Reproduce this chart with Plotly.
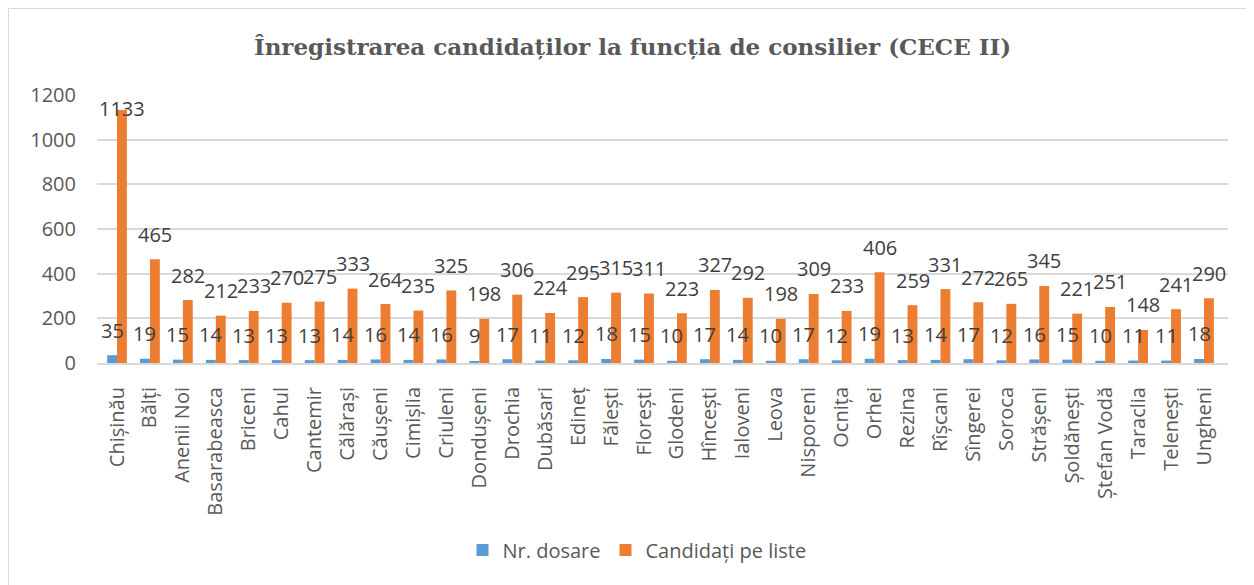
import plotly.graph_objects as go

# Raioane / municipii (axa X)
raioane = ["Chișinău", "Bălți", "Anenii Noi", "Basarabeasca", "Briceni", "Cahul",
           "Cantemir", "Călărași", "Căușeni", "Cimișlia", "Criuleni", "Dondușeni",
           "Drochia", "Dubăsari", "Edineț", "Fălești", "Florești", "Glodeni",
           "Hîncești", "Ialoveni", "Leova", "Nisporeni", "Ocnița", "Orhei",
           "Rezina", "Rîșcani", "Sîngerei", "Soroca", "Strășeni", "Șoldănești",
           "Ștefan Vodă", "Taraclia", "Telenești", "Ungheni"]

# Nr. dosare
nr_dosare = [35, 19, 15, 14, 13, 13, 13, 14, 16, 14, 16, 9, 17, 11, 12, 18, 15,
             10, 17, 14, 10, 17, 12, 19, 13, 14, 17, 12, 16, 15, 10, 11, 11, 18]

# Candidati pe liste
candidati = [1133, 465, 282, 212, 233, 270, 275, 333, 264, 235, 325, 198, 306,
             224, 295, 315, 311, 223, 327, 292, 198, 309, 233, 406, 259, 331,
             272, 265, 345, 221, 251, 148, 241, 290]

y_ticks = [0, 200, 400, 600, 800, 1000, 1200]

BLUE = "#5B9BD5"
ORANGE = "#ED7D31"
FONT = "Open Sans"

# pagina are 8px margine implicita, deci figura e putin mai mica
W, H = 1246, 577
L, R, T, B = 89, 26, 87, 222
PW, PH = W - L - R, H - T - B

fig = go.Figure()
fig.add_trace(go.Bar(x=raioane, y=nr_dosare, name="Nr. dosare",
                     marker=dict(color=BLUE, line=dict(width=0))))
fig.add_trace(go.Bar(x=raioane, y=candidati, name="Candidați pe liste",
                     marker=dict(color=ORANGE, line=dict(width=0))))

# etichete de date, ca in Excel (deasupra barelor)
annots = []
for name, val in zip(raioane, nr_dosare):
    annots.append(dict(x=name, y=val + 112, text=str(val), showarrow=False,
                       xshift=-5, yanchor="middle",
                       font=dict(family=FONT, size=20, color="#404040")))
for name, val in zip(raioane, candidati):
    annots.append(dict(x=name, y=min(val + 112, 1140), text=str(val), showarrow=False,
                       xshift=5, yanchor="middle",
                       font=dict(family=FONT, size=20, color="#404040")))

# chenarul graficului (doar stanga si sus sunt vizibile)
bx = (0 - L) / PW
by = (H - B - 0) / PH
fig.add_shape(type="line", xref="paper", yref="paper", x0=bx, x1=bx, y0=by,
              y1=-B / PH, line=dict(color="#D9D9D9", width=2))
fig.add_shape(type="line", xref="paper", yref="paper", x0=bx, x1=(W - L) / PW,
              y0=by, y1=by, line=dict(color="#D9D9D9", width=2))

fig.update_layout(
    width=W, height=H,
    margin=dict(l=L, r=R, t=T, b=B),
    paper_bgcolor="white", plot_bgcolor="white",
    barmode="group", bargap=0.4, bargroupgap=0,
    title=dict(text="<b>Înregistrarea candidaților la funcția de consilier (CECE II)</b>",
               x=624.5 / W, xanchor="center", y=1 - 39 / H, yanchor="middle",
               yref="container",
               font=dict(family="DejaVu Serif", size=23, color="#595959")),
    legend=dict(orientation="h", x=629 / W, xanchor="center", xref="container",
                y=1 - 542 / H, yanchor="middle", yref="container",
                font=dict(family=FONT, size=20, color="#595959")),
    annotations=annots,
)

fig.update_xaxes(tickangle=-90, showgrid=False, showline=True, linecolor="#D9D9D9",
                 linewidth=2, ticks="", ticklabelstandoff=14,
                 tickfont=dict(family=FONT, size=20, color="#595959"))
fig.update_yaxes(range=[0, 1200], tickvals=y_ticks, showgrid=True, gridcolor="#D9D9D9",
                 gridwidth=2, zeroline=False, showline=False, ticks="",
                 ticklabelstandoff=20,
                 tickfont=dict(family=FONT, size=20, color="#595959"))

fig.write_html("out.html")
